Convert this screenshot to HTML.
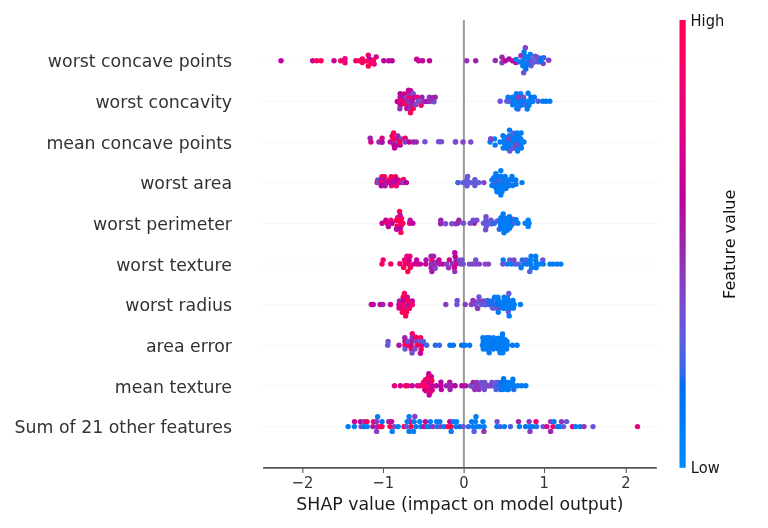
<!DOCTYPE html>
<html><head><meta charset="utf-8"><title>SHAP beeswarm</title>
<style>html,body{margin:0;padding:0;background:#fff}body{width:768px;height:528px;overflow:hidden}svg{display:block}text{font-family:"DejaVu Sans","Liberation Sans",sans-serif}</style></head><body>
<svg width="768" height="528" viewBox="0 0 768 528">
<defs><linearGradient id="cb" x1="0" y1="0" x2="0" y2="1"><stop offset="0.0%" stop-color="#ff0051"/><stop offset="0%" stop-color="#ff0051"/><stop offset="3.0%" stop-color="#ff0058"/><stop offset="6.1%" stop-color="#fd005f"/><stop offset="9.1%" stop-color="#fa0065"/><stop offset="12.1%" stop-color="#f6006c"/><stop offset="15.2%" stop-color="#f10072"/><stop offset="18.2%" stop-color="#ec0078"/><stop offset="21.2%" stop-color="#e7007e"/><stop offset="24.2%" stop-color="#e10084"/><stop offset="27.3%" stop-color="#db008a"/><stop offset="30.3%" stop-color="#d40090"/><stop offset="33.3%" stop-color="#cd0095"/><stop offset="36.4%" stop-color="#c5009a"/><stop offset="39.4%" stop-color="#bc009f"/><stop offset="42.4%" stop-color="#b30aa3"/><stop offset="45.5%" stop-color="#aa17a7"/><stop offset="48.5%" stop-color="#a01fab"/><stop offset="51.5%" stop-color="#9829b1"/><stop offset="54.5%" stop-color="#9233b9"/><stop offset="57.6%" stop-color="#8a3cc0"/><stop offset="60.6%" stop-color="#8244c7"/><stop offset="63.6%" stop-color="#794cce"/><stop offset="66.7%" stop-color="#6f52d4"/><stop offset="69.7%" stop-color="#6459da"/><stop offset="72.7%" stop-color="#575fdf"/><stop offset="75.8%" stop-color="#4664e4"/><stop offset="78.8%" stop-color="#306ae9"/><stop offset="81.8%" stop-color="#006fed"/><stop offset="84.8%" stop-color="#0074f0"/><stop offset="87.9%" stop-color="#0079f3"/><stop offset="90.9%" stop-color="#007ef6"/><stop offset="93.9%" stop-color="#0082f8"/><stop offset="97.0%" stop-color="#0086fa"/><stop offset="100.0%" stop-color="#008bfb"/></linearGradient></defs>
<rect width="768" height="528" fill="#fff"/>
<line x1="263.55" x2="656.8" y1="60.90" y2="60.90" stroke="#c4c4c4" stroke-width="0.7" stroke-dasharray="0.7 3.3"/>
<line x1="263.55" x2="656.8" y1="101.55" y2="101.55" stroke="#c4c4c4" stroke-width="0.7" stroke-dasharray="0.7 3.3"/>
<line x1="263.55" x2="656.8" y1="142.19" y2="142.19" stroke="#c4c4c4" stroke-width="0.7" stroke-dasharray="0.7 3.3"/>
<line x1="263.55" x2="656.8" y1="182.84" y2="182.84" stroke="#c4c4c4" stroke-width="0.7" stroke-dasharray="0.7 3.3"/>
<line x1="263.55" x2="656.8" y1="223.48" y2="223.48" stroke="#c4c4c4" stroke-width="0.7" stroke-dasharray="0.7 3.3"/>
<line x1="263.55" x2="656.8" y1="264.12" y2="264.12" stroke="#c4c4c4" stroke-width="0.7" stroke-dasharray="0.7 3.3"/>
<line x1="263.55" x2="656.8" y1="304.77" y2="304.77" stroke="#c4c4c4" stroke-width="0.7" stroke-dasharray="0.7 3.3"/>
<line x1="263.55" x2="656.8" y1="345.42" y2="345.42" stroke="#c4c4c4" stroke-width="0.7" stroke-dasharray="0.7 3.3"/>
<line x1="263.55" x2="656.8" y1="386.06" y2="386.06" stroke="#c4c4c4" stroke-width="0.7" stroke-dasharray="0.7 3.3"/>
<line x1="263.55" x2="656.8" y1="426.70" y2="426.70" stroke="#c4c4c4" stroke-width="0.7" stroke-dasharray="0.7 3.3"/>
<line x1="463.88" x2="463.88" y1="20.0" y2="467.8" stroke="#999999" stroke-width="2"/>
<g><circle cx="281.0" cy="60.7" r="2.72" fill="#c0009d"/><circle cx="312.7" cy="60.7" r="2.72" fill="#c80098"/><circle cx="316.7" cy="60.7" r="2.72" fill="#fe005c"/><circle cx="321.0" cy="60.7" r="2.72" fill="#fe005c"/><circle cx="334.0" cy="60.7" r="2.72" fill="#c80098"/><circle cx="340.7" cy="60.7" r="2.72" fill="#fe005c"/><circle cx="345.0" cy="58.7" r="2.72" fill="#e9007c"/><circle cx="345.0" cy="62.8" r="2.72" fill="#e9007c"/><circle cx="355.8" cy="60.7" r="2.72" fill="#f80067"/><circle cx="359.3" cy="60.7" r="2.72" fill="#fe005c"/><circle cx="362.3" cy="59.0" r="2.72" fill="#f80067"/><circle cx="362.3" cy="62.5" r="2.72" fill="#fe005c"/><circle cx="368.3" cy="55.2" r="2.72" fill="#f10072"/><circle cx="369.6" cy="59.0" r="2.72" fill="#ba00a0"/><circle cx="368.3" cy="66.1" r="2.72" fill="#ff0051"/><circle cx="376.2" cy="56.9" r="2.72" fill="#d5008f"/><circle cx="373.3" cy="60.2" r="2.72" fill="#fe005c"/><circle cx="374.2" cy="64.0" r="2.72" fill="#e9007c"/><circle cx="366.5" cy="61.1" r="2.72" fill="#fe005c"/><circle cx="371.0" cy="63.3" r="2.72" fill="#f80067"/><circle cx="383.8" cy="60.7" r="2.72" fill="#ba00a0"/><circle cx="388.8" cy="60.7" r="2.72" fill="#ba00a0"/><circle cx="392.1" cy="60.7" r="2.72" fill="#ba00a0"/><circle cx="416.7" cy="59.2" r="2.72" fill="#c80098"/><circle cx="418.7" cy="60.8" r="2.72" fill="#c80098"/><circle cx="422.5" cy="60.8" r="2.72" fill="#c80098"/><circle cx="429.5" cy="60.7" r="2.72" fill="#c80098"/><circle cx="466.7" cy="60.7" r="2.72" fill="#9134ba"/><circle cx="475.7" cy="60.7" r="2.72" fill="#9c24ad"/><circle cx="495.3" cy="60.5" r="2.72" fill="#972bb2"/><circle cx="502.0" cy="57.3" r="2.72" fill="#9c24ad"/><circle cx="502.0" cy="62.8" r="2.72" fill="#893dc1"/><circle cx="505.3" cy="60.7" r="2.72" fill="#c0009d"/><circle cx="509.1" cy="59.0" r="2.72" fill="#b407a3"/><circle cx="512.4" cy="60.7" r="2.72" fill="#c0009d"/><circle cx="515.8" cy="62.5" r="2.72" fill="#c0009d"/><circle cx="516.2" cy="59.4" r="2.72" fill="#0079f3"/><circle cx="520.8" cy="55.7" r="2.72" fill="#9134ba"/><circle cx="519.5" cy="61.9" r="2.72" fill="#007cf5"/><circle cx="525.3" cy="47.8" r="2.72" fill="#893dc1"/><circle cx="524.1" cy="51.9" r="2.72" fill="#007cf5"/><circle cx="525.3" cy="56.5" r="2.72" fill="#007cf5"/><circle cx="523.2" cy="60.7" r="2.72" fill="#007cf5"/><circle cx="522.8" cy="65.7" r="2.72" fill="#007cf5"/><circle cx="525.8" cy="69.0" r="2.72" fill="#0074f0"/><circle cx="523.7" cy="72.8" r="2.72" fill="#754fd1"/><circle cx="530.3" cy="54.4" r="2.72" fill="#0079f3"/><circle cx="528.7" cy="61.5" r="2.72" fill="#754fd1"/><circle cx="531.2" cy="65.7" r="2.72" fill="#635adb"/><circle cx="535.3" cy="56.1" r="2.72" fill="#8443c6"/><circle cx="533.7" cy="62.3" r="2.72" fill="#635adb"/><circle cx="537.0" cy="61.5" r="2.72" fill="#635adb"/><circle cx="540.8" cy="58.2" r="2.72" fill="#007cf5"/><circle cx="543.2" cy="63.6" r="2.72" fill="#893dc1"/><circle cx="543.7" cy="57.8" r="2.72" fill="#236cea"/><circle cx="548.7" cy="60.2" r="2.72" fill="#8443c6"/><circle cx="532.0" cy="59.8" r="2.72" fill="#635adb"/><circle cx="538.7" cy="61.9" r="2.72" fill="#635adb"/><circle cx="527.8" cy="57.8" r="2.72" fill="#0079f3"/><circle cx="527.0" cy="64.8" r="2.72" fill="#0079f3"/><circle cx="537.0" cy="57.3" r="2.72" fill="#754fd1"/><circle cx="540.8" cy="61.1" r="2.72" fill="#0074f0"/><circle cx="525.3" cy="63.2" r="2.72" fill="#007cf5"/></g>
<g><circle cx="516.8" cy="101.1" r="2.72" fill="#007cf5"/><circle cx="524.3" cy="101.5" r="2.72" fill="#007cf5"/><circle cx="521.4" cy="105.2" r="2.72" fill="#007cf5"/><circle cx="531.0" cy="101.1" r="2.72" fill="#007cf5"/><circle cx="516.0" cy="97.3" r="2.72" fill="#007cf5"/><circle cx="409.0" cy="93.6" r="2.72" fill="#9c24ad"/><circle cx="400.2" cy="97.3" r="2.72" fill="#ab15a7"/><circle cx="404.0" cy="97.8" r="2.72" fill="#ba00a0"/><circle cx="411.5" cy="105.2" r="2.72" fill="#9c24ad"/><circle cx="409.0" cy="105.2" r="2.72" fill="#9c24ad"/><circle cx="412.3" cy="97.8" r="2.72" fill="#ab15a7"/><circle cx="409.8" cy="94.0" r="2.72" fill="#9134ba"/><circle cx="403.2" cy="101.1" r="2.72" fill="#e9007c"/><circle cx="400.2" cy="93.6" r="2.72" fill="#ba00a0"/><circle cx="397.3" cy="101.5" r="2.72" fill="#ba00a0"/><circle cx="400.2" cy="101.1" r="2.72" fill="#f10072"/><circle cx="400.2" cy="105.2" r="2.72" fill="#ba00a0"/><circle cx="399.8" cy="108.8" r="2.72" fill="#9134ba"/><circle cx="404.4" cy="94.0" r="2.72" fill="#d5008f"/><circle cx="408.6" cy="90.2" r="2.72" fill="#c80098"/><circle cx="410.7" cy="90.7" r="2.72" fill="#c80098"/><circle cx="413.2" cy="93.6" r="2.72" fill="#754fd1"/><circle cx="406.1" cy="97.8" r="2.72" fill="#754fd1"/><circle cx="409.0" cy="97.8" r="2.72" fill="#f80067"/><circle cx="404.8" cy="104.0" r="2.72" fill="#ff0051"/><circle cx="405.2" cy="101.9" r="2.72" fill="#fe005c"/><circle cx="408.2" cy="101.5" r="2.72" fill="#9134ba"/><circle cx="412.3" cy="101.5" r="2.72" fill="#ab15a7"/><circle cx="414.8" cy="97.3" r="2.72" fill="#d5008f"/><circle cx="417.3" cy="97.3" r="2.72" fill="#f10072"/><circle cx="406.9" cy="108.6" r="2.72" fill="#ba00a0"/><circle cx="409.8" cy="109.0" r="2.72" fill="#9134ba"/><circle cx="413.2" cy="108.6" r="2.72" fill="#ff0051"/><circle cx="410.5" cy="112.8" r="2.72" fill="#ff0051"/><circle cx="415.7" cy="104.8" r="2.72" fill="#8443c6"/><circle cx="418.2" cy="101.1" r="2.72" fill="#754fd1"/><circle cx="421.1" cy="105.2" r="2.72" fill="#f10072"/><circle cx="421.9" cy="97.3" r="2.72" fill="#9c24ad"/><circle cx="423.2" cy="101.5" r="2.72" fill="#9134ba"/><circle cx="426.5" cy="101.5" r="2.72" fill="#ab15a7"/><circle cx="429.4" cy="97.3" r="2.72" fill="#9134ba"/><circle cx="429.8" cy="101.5" r="2.72" fill="#9134ba"/><circle cx="435.2" cy="97.3" r="2.72" fill="#9c24ad"/><circle cx="434.0" cy="101.7" r="2.72" fill="#754fd1"/><circle cx="432.8" cy="97.8" r="2.72" fill="#9c24ad"/><circle cx="500.2" cy="101.3" r="2.72" fill="#6b55d7"/><circle cx="506.8" cy="101.3" r="2.72" fill="#635adb"/><circle cx="509.3" cy="101.3" r="2.72" fill="#635adb"/><circle cx="508.1" cy="97.3" r="2.72" fill="#007cf5"/><circle cx="512.7" cy="97.3" r="2.72" fill="#007cf5"/><circle cx="512.7" cy="104.8" r="2.72" fill="#007cf5"/><circle cx="513.5" cy="101.1" r="2.72" fill="#007cf5"/><circle cx="516.4" cy="93.6" r="2.72" fill="#007cf5"/><circle cx="520.6" cy="93.6" r="2.72" fill="#007cf5"/><circle cx="518.5" cy="97.3" r="2.72" fill="#7f48ca"/><circle cx="523.5" cy="97.3" r="2.72" fill="#754fd1"/><circle cx="517.7" cy="104.8" r="2.72" fill="#007ff7"/><circle cx="518.1" cy="109.0" r="2.72" fill="#635adb"/><circle cx="516.8" cy="108.6" r="2.72" fill="#007cf5"/><circle cx="521.0" cy="101.1" r="2.72" fill="#007cf5"/><circle cx="525.2" cy="104.8" r="2.72" fill="#4a63e3"/><circle cx="528.1" cy="93.2" r="2.72" fill="#007cf5"/><circle cx="527.2" cy="109.0" r="2.72" fill="#007cf5"/><circle cx="527.7" cy="101.1" r="2.72" fill="#0084f9"/><circle cx="528.9" cy="105.2" r="2.72" fill="#007cf5"/><circle cx="531.0" cy="97.3" r="2.72" fill="#0074f0"/><circle cx="534.3" cy="97.3" r="2.72" fill="#0079f3"/><circle cx="532.7" cy="101.5" r="2.72" fill="#007ff7"/><circle cx="538.1" cy="101.3" r="2.72" fill="#635adb"/><circle cx="542.7" cy="101.3" r="2.72" fill="#007cf5"/><circle cx="546.0" cy="101.3" r="2.72" fill="#0079f3"/><circle cx="549.8" cy="101.3" r="2.72" fill="#007cf5"/></g>
<g><circle cx="504.8" cy="137.5" r="2.72" fill="#007cf5"/><circle cx="508.4" cy="137.5" r="2.72" fill="#007cf5"/><circle cx="512.0" cy="137.5" r="2.72" fill="#007cf5"/><circle cx="515.6" cy="137.5" r="2.72" fill="#007cf5"/><circle cx="519.2" cy="137.5" r="2.72" fill="#007cf5"/><circle cx="506.6" cy="140.6" r="2.72" fill="#007cf5"/><circle cx="510.2" cy="140.6" r="2.72" fill="#007cf5"/><circle cx="513.8" cy="140.6" r="2.72" fill="#007cf5"/><circle cx="517.4" cy="140.6" r="2.72" fill="#007cf5"/><circle cx="521.0" cy="140.6" r="2.72" fill="#007cf5"/><circle cx="504.8" cy="143.8" r="2.72" fill="#007cf5"/><circle cx="508.4" cy="143.8" r="2.72" fill="#007cf5"/><circle cx="512.0" cy="143.8" r="2.72" fill="#007cf5"/><circle cx="515.6" cy="143.8" r="2.72" fill="#007cf5"/><circle cx="519.2" cy="143.8" r="2.72" fill="#007cf5"/><circle cx="506.6" cy="146.9" r="2.72" fill="#007cf5"/><circle cx="510.2" cy="146.9" r="2.72" fill="#007cf5"/><circle cx="513.8" cy="146.9" r="2.72" fill="#007cf5"/><circle cx="517.4" cy="146.9" r="2.72" fill="#007cf5"/><circle cx="504.5" cy="138.9" r="2.72" fill="#007cf5"/><circle cx="506.4" cy="145.1" r="2.72" fill="#007cf5"/><circle cx="507.0" cy="138.9" r="2.72" fill="#007cf5"/><circle cx="517.0" cy="147.6" r="2.72" fill="#007cf5"/><circle cx="520.8" cy="144.5" r="2.72" fill="#007cf5"/><circle cx="517.0" cy="135.8" r="2.72" fill="#007cf5"/><circle cx="513.0" cy="142.0" r="2.72" fill="#007cf5"/><circle cx="507.0" cy="148.2" r="2.72" fill="#007cf5"/><circle cx="505.8" cy="142.0" r="2.72" fill="#007cf5"/><circle cx="396.5" cy="142.0" r="2.72" fill="#ba00a0"/><circle cx="396.8" cy="138.9" r="2.72" fill="#e9007c"/><circle cx="397.1" cy="145.1" r="2.72" fill="#ba00a0"/><circle cx="370.2" cy="138.2" r="2.72" fill="#9c24ad"/><circle cx="370.9" cy="142.0" r="2.72" fill="#d5008f"/><circle cx="379.0" cy="142.0" r="2.72" fill="#9c24ad"/><circle cx="382.1" cy="138.2" r="2.72" fill="#e00086"/><circle cx="382.1" cy="142.2" r="2.72" fill="#ab15a7"/><circle cx="390.2" cy="142.0" r="2.72" fill="#ab15a7"/><circle cx="393.6" cy="133.0" r="2.72" fill="#fe005c"/><circle cx="392.1" cy="136.0" r="2.72" fill="#f80067"/><circle cx="393.4" cy="138.9" r="2.72" fill="#ff0051"/><circle cx="397.8" cy="136.0" r="2.72" fill="#9c24ad"/><circle cx="395.2" cy="142.0" r="2.72" fill="#8443c6"/><circle cx="399.6" cy="142.0" r="2.72" fill="#ff0051"/><circle cx="394.0" cy="145.1" r="2.72" fill="#ba00a0"/><circle cx="394.6" cy="148.0" r="2.72" fill="#c80098"/><circle cx="400.2" cy="145.1" r="2.72" fill="#ba00a0"/><circle cx="401.5" cy="138.9" r="2.72" fill="#8443c6"/><circle cx="405.2" cy="138.2" r="2.72" fill="#f80067"/><circle cx="405.2" cy="142.0" r="2.72" fill="#8443c6"/><circle cx="409.2" cy="142.0" r="2.72" fill="#ba00a0"/><circle cx="413.4" cy="142.0" r="2.72" fill="#9c24ad"/><circle cx="416.2" cy="142.0" r="2.72" fill="#9c24ad"/><circle cx="424.9" cy="141.8" r="2.72" fill="#754fd1"/><circle cx="438.6" cy="141.8" r="2.72" fill="#754fd1"/><circle cx="441.5" cy="141.8" r="2.72" fill="#754fd1"/><circle cx="455.5" cy="141.8" r="2.72" fill="#635adb"/><circle cx="455.5" cy="142.0" r="2.72" fill="#7f48ca"/><circle cx="463.0" cy="142.0" r="2.72" fill="#8443c6"/><circle cx="470.8" cy="142.0" r="2.72" fill="#7f48ca"/><circle cx="490.8" cy="138.9" r="2.72" fill="#8443c6"/><circle cx="490.1" cy="142.0" r="2.72" fill="#007cf5"/><circle cx="494.5" cy="138.9" r="2.72" fill="#007cf5"/><circle cx="495.1" cy="145.1" r="2.72" fill="#007cf5"/><circle cx="500.1" cy="142.0" r="2.72" fill="#007cf5"/><circle cx="503.0" cy="135.8" r="2.72" fill="#007cf5"/><circle cx="503.2" cy="148.0" r="2.72" fill="#007cf5"/><circle cx="503.9" cy="142.0" r="2.72" fill="#007cf5"/><circle cx="509.5" cy="130.1" r="2.72" fill="#007cf5"/><circle cx="509.5" cy="135.8" r="2.72" fill="#007cf5"/><circle cx="509.2" cy="138.9" r="2.72" fill="#8443c6"/><circle cx="509.8" cy="151.0" r="2.72" fill="#635adb"/><circle cx="508.2" cy="145.1" r="2.72" fill="#007cf5"/><circle cx="513.2" cy="133.2" r="2.72" fill="#4a63e3"/><circle cx="513.2" cy="138.9" r="2.72" fill="#007cf5"/><circle cx="512.6" cy="145.1" r="2.72" fill="#007ff7"/><circle cx="513.2" cy="148.2" r="2.72" fill="#635adb"/><circle cx="517.0" cy="133.0" r="2.72" fill="#007cf5"/><circle cx="516.4" cy="138.9" r="2.72" fill="#007cf5"/><circle cx="516.6" cy="144.5" r="2.72" fill="#8443c6"/><circle cx="517.6" cy="151.0" r="2.72" fill="#007cf5"/><circle cx="521.1" cy="133.0" r="2.72" fill="#007cf5"/><circle cx="520.8" cy="138.9" r="2.72" fill="#007cf5"/><circle cx="521.4" cy="148.0" r="2.72" fill="#007cf5"/><circle cx="520.5" cy="142.0" r="2.72" fill="#007ff7"/><circle cx="523.9" cy="142.0" r="2.72" fill="#007cf5"/><circle cx="399.6" cy="142.0" r="2.72" fill="#ff0051"/><circle cx="393.4" cy="138.9" r="2.72" fill="#ff0051"/><circle cx="490.8" cy="138.9" r="2.72" fill="#8443c6"/></g>
<g><circle cx="493.8" cy="177.7" r="2.72" fill="#007cf5"/><circle cx="497.4" cy="177.7" r="2.72" fill="#007cf5"/><circle cx="501.0" cy="177.7" r="2.72" fill="#007cf5"/><circle cx="504.6" cy="177.7" r="2.72" fill="#007cf5"/><circle cx="495.6" cy="180.8" r="2.72" fill="#007cf5"/><circle cx="499.2" cy="180.8" r="2.72" fill="#007cf5"/><circle cx="502.8" cy="180.8" r="2.72" fill="#007cf5"/><circle cx="506.4" cy="180.8" r="2.72" fill="#007cf5"/><circle cx="493.8" cy="184.0" r="2.72" fill="#007cf5"/><circle cx="497.4" cy="184.0" r="2.72" fill="#007cf5"/><circle cx="501.0" cy="184.0" r="2.72" fill="#007cf5"/><circle cx="504.6" cy="184.0" r="2.72" fill="#007cf5"/><circle cx="495.6" cy="187.1" r="2.72" fill="#007cf5"/><circle cx="499.2" cy="187.1" r="2.72" fill="#007cf5"/><circle cx="502.8" cy="187.1" r="2.72" fill="#007cf5"/><circle cx="506.4" cy="187.1" r="2.72" fill="#007cf5"/><circle cx="501.0" cy="190.2" r="2.72" fill="#007cf5"/><circle cx="467.0" cy="182.6" r="2.72" fill="#635adb"/><circle cx="474.9" cy="182.6" r="2.72" fill="#635adb"/><circle cx="497.0" cy="182.6" r="2.72" fill="#007cf5"/><circle cx="500.1" cy="182.6" r="2.72" fill="#007cf5"/><circle cx="496.4" cy="179.9" r="2.72" fill="#007cf5"/><circle cx="496.4" cy="185.5" r="2.72" fill="#007cf5"/><circle cx="504.5" cy="179.9" r="2.72" fill="#007cf5"/><circle cx="504.5" cy="185.5" r="2.72" fill="#007cf5"/><circle cx="500.8" cy="188.6" r="2.72" fill="#007cf5"/><circle cx="508.9" cy="185.5" r="2.72" fill="#007cf5"/><circle cx="498.2" cy="176.8" r="2.72" fill="#007cf5"/><circle cx="377.1" cy="182.6" r="2.72" fill="#fe005c"/><circle cx="377.7" cy="179.9" r="2.72" fill="#8443c6"/><circle cx="378.1" cy="182.4" r="2.72" fill="#8443c6"/><circle cx="381.9" cy="176.6" r="2.72" fill="#ff0051"/><circle cx="384.5" cy="176.6" r="2.72" fill="#ff0051"/><circle cx="381.3" cy="179.9" r="2.72" fill="#ab15a7"/><circle cx="383.5" cy="179.9" r="2.72" fill="#ab15a7"/><circle cx="381.6" cy="182.6" r="2.72" fill="#f80067"/><circle cx="385.5" cy="182.6" r="2.72" fill="#ab15a7"/><circle cx="381.3" cy="185.7" r="2.72" fill="#ba00a0"/><circle cx="385.1" cy="185.7" r="2.72" fill="#ab15a7"/><circle cx="388.7" cy="179.9" r="2.72" fill="#e9007c"/><circle cx="391.3" cy="176.6" r="2.72" fill="#ff0051"/><circle cx="395.4" cy="176.6" r="2.72" fill="#ff0051"/><circle cx="391.6" cy="179.9" r="2.72" fill="#f10072"/><circle cx="395.8" cy="179.9" r="2.72" fill="#ba00a0"/><circle cx="389.3" cy="182.6" r="2.72" fill="#e9007c"/><circle cx="392.6" cy="182.6" r="2.72" fill="#ba00a0"/><circle cx="395.8" cy="182.6" r="2.72" fill="#f10072"/><circle cx="398.3" cy="179.9" r="2.72" fill="#e9007c"/><circle cx="391.6" cy="185.7" r="2.72" fill="#f10072"/><circle cx="396.4" cy="185.7" r="2.72" fill="#f10072"/><circle cx="400.0" cy="182.6" r="2.72" fill="#e9007c"/><circle cx="403.5" cy="179.5" r="2.72" fill="#f80067"/><circle cx="403.2" cy="182.6" r="2.72" fill="#8443c6"/><circle cx="406.4" cy="182.6" r="2.72" fill="#ba00a0"/><circle cx="458.0" cy="182.6" r="2.72" fill="#0074f0"/><circle cx="458.2" cy="182.6" r="2.72" fill="#4a63e3"/><circle cx="463.2" cy="182.6" r="2.72" fill="#635adb"/><circle cx="467.0" cy="179.9" r="2.72" fill="#635adb"/><circle cx="467.0" cy="185.8" r="2.72" fill="#635adb"/><circle cx="467.6" cy="176.5" r="2.72" fill="#635adb"/><circle cx="470.8" cy="182.6" r="2.72" fill="#635adb"/><circle cx="474.9" cy="179.6" r="2.72" fill="#635adb"/><circle cx="474.9" cy="185.5" r="2.72" fill="#6b55d7"/><circle cx="478.9" cy="182.6" r="2.72" fill="#635adb"/><circle cx="483.9" cy="182.6" r="2.72" fill="#7f48ca"/><circle cx="492.0" cy="179.9" r="2.72" fill="#007cf5"/><circle cx="492.0" cy="185.5" r="2.72" fill="#007cf5"/><circle cx="494.5" cy="182.6" r="2.72" fill="#236cea"/><circle cx="495.8" cy="173.6" r="2.72" fill="#007cf5"/><circle cx="495.8" cy="176.8" r="2.72" fill="#007cf5"/><circle cx="496.4" cy="188.6" r="2.72" fill="#007cf5"/><circle cx="497.0" cy="191.8" r="2.72" fill="#007cf5"/><circle cx="500.1" cy="179.9" r="2.72" fill="#4a63e3"/><circle cx="500.1" cy="185.5" r="2.72" fill="#007cf5"/><circle cx="500.8" cy="170.8" r="2.72" fill="#007cf5"/><circle cx="500.8" cy="194.9" r="2.72" fill="#007cf5"/><circle cx="501.4" cy="176.5" r="2.72" fill="#007cf5"/><circle cx="502.0" cy="191.5" r="2.72" fill="#007cf5"/><circle cx="503.9" cy="182.6" r="2.72" fill="#007cf5"/><circle cx="505.1" cy="176.5" r="2.72" fill="#007cf5"/><circle cx="505.8" cy="188.6" r="2.72" fill="#007cf5"/><circle cx="508.2" cy="182.6" r="2.72" fill="#236cea"/><circle cx="508.9" cy="179.9" r="2.72" fill="#007cf5"/><circle cx="512.0" cy="176.5" r="2.72" fill="#007cf5"/><circle cx="512.6" cy="185.5" r="2.72" fill="#007cf5"/><circle cx="512.6" cy="179.9" r="2.72" fill="#007cf5"/><circle cx="515.8" cy="179.9" r="2.72" fill="#007cf5"/><circle cx="515.8" cy="184.2" r="2.72" fill="#007cf5"/><circle cx="522.0" cy="182.6" r="2.72" fill="#007cf5"/><circle cx="392.6" cy="182.6" r="2.72" fill="#ab15a7"/><circle cx="395.8" cy="179.9" r="2.72" fill="#ba00a0"/><circle cx="389.3" cy="182.6" r="2.72" fill="#d5008f"/></g>
<g><circle cx="500.6" cy="218.9" r="2.72" fill="#007cf5"/><circle cx="504.2" cy="218.9" r="2.72" fill="#007cf5"/><circle cx="507.8" cy="218.9" r="2.72" fill="#007cf5"/><circle cx="502.4" cy="222.0" r="2.72" fill="#007cf5"/><circle cx="506.0" cy="222.0" r="2.72" fill="#007cf5"/><circle cx="509.6" cy="222.0" r="2.72" fill="#007cf5"/><circle cx="500.6" cy="225.2" r="2.72" fill="#007cf5"/><circle cx="504.2" cy="225.2" r="2.72" fill="#007cf5"/><circle cx="507.8" cy="225.2" r="2.72" fill="#007cf5"/><circle cx="511.4" cy="225.2" r="2.72" fill="#007cf5"/><circle cx="502.4" cy="228.3" r="2.72" fill="#007cf5"/><circle cx="506.0" cy="228.3" r="2.72" fill="#007cf5"/><circle cx="509.6" cy="228.3" r="2.72" fill="#007cf5"/><circle cx="505.7" cy="221.8" r="2.72" fill="#007cf5"/><circle cx="503.2" cy="219.8" r="2.72" fill="#007cf5"/><circle cx="506.9" cy="224.8" r="2.72" fill="#007cf5"/><circle cx="511.5" cy="223.9" r="2.72" fill="#0079f3"/><circle cx="513.2" cy="219.3" r="2.72" fill="#635adb"/><circle cx="501.9" cy="224.8" r="2.72" fill="#007cf5"/><circle cx="382.1" cy="223.2" r="2.72" fill="#c80098"/><circle cx="385.9" cy="220.2" r="2.72" fill="#ba00a0"/><circle cx="387.1" cy="223.2" r="2.72" fill="#f10072"/><circle cx="388.4" cy="226.5" r="2.72" fill="#ba00a0"/><circle cx="390.9" cy="220.2" r="2.72" fill="#f10072"/><circle cx="392.1" cy="223.2" r="2.72" fill="#ba00a0"/><circle cx="399.6" cy="211.5" r="2.72" fill="#ff0051"/><circle cx="400.2" cy="215.5" r="2.72" fill="#ab15a7"/><circle cx="397.8" cy="217.4" r="2.72" fill="#e9007c"/><circle cx="401.5" cy="218.6" r="2.72" fill="#f80067"/><circle cx="396.5" cy="220.5" r="2.72" fill="#ff0051"/><circle cx="400.2" cy="221.8" r="2.72" fill="#ff0051"/><circle cx="397.1" cy="226.1" r="2.72" fill="#ff0051"/><circle cx="401.5" cy="224.9" r="2.72" fill="#f80067"/><circle cx="396.5" cy="229.2" r="2.72" fill="#ab15a7"/><circle cx="400.2" cy="228.6" r="2.72" fill="#ba00a0"/><circle cx="400.9" cy="232.4" r="2.72" fill="#ff0051"/><circle cx="402.8" cy="223.2" r="2.72" fill="#fe005c"/><circle cx="410.2" cy="220.2" r="2.72" fill="#ab15a7"/><circle cx="409.6" cy="223.2" r="2.72" fill="#e00086"/><circle cx="412.8" cy="223.2" r="2.72" fill="#ba00a0"/><circle cx="474.3" cy="223.3" r="2.72" fill="#a11eab"/><circle cx="440.8" cy="220.2" r="2.72" fill="#9c24ad"/><circle cx="440.6" cy="223.7" r="2.72" fill="#9c24ad"/><circle cx="445.6" cy="223.7" r="2.72" fill="#754fd1"/><circle cx="451.8" cy="223.7" r="2.72" fill="#754fd1"/><circle cx="456.0" cy="223.7" r="2.72" fill="#9134ba"/><circle cx="458.9" cy="220.2" r="2.72" fill="#9c24ad"/><circle cx="458.1" cy="223.1" r="2.72" fill="#972bb2"/><circle cx="463.5" cy="223.3" r="2.72" fill="#6e53d5"/><circle cx="470.2" cy="223.3" r="2.72" fill="#754fd1"/><circle cx="473.1" cy="220.2" r="2.72" fill="#754fd1"/><circle cx="476.8" cy="220.2" r="2.72" fill="#7f48ca"/><circle cx="483.5" cy="223.3" r="2.72" fill="#635adb"/><circle cx="486.0" cy="216.8" r="2.72" fill="#7f48ca"/><circle cx="486.0" cy="220.2" r="2.72" fill="#635adb"/><circle cx="486.4" cy="226.0" r="2.72" fill="#635adb"/><circle cx="485.6" cy="229.8" r="2.72" fill="#754fd1"/><circle cx="488.1" cy="223.3" r="2.72" fill="#635adb"/><circle cx="491.0" cy="220.2" r="2.72" fill="#635adb"/><circle cx="491.4" cy="223.9" r="2.72" fill="#635adb"/><circle cx="494.3" cy="223.3" r="2.72" fill="#236cea"/><circle cx="497.2" cy="221.0" r="2.72" fill="#635adb"/><circle cx="499.3" cy="229.3" r="2.72" fill="#236cea"/><circle cx="503.2" cy="213.9" r="2.72" fill="#007cf5"/><circle cx="501.1" cy="217.7" r="2.72" fill="#007cf5"/><circle cx="505.2" cy="218.1" r="2.72" fill="#007cf5"/><circle cx="509.4" cy="216.8" r="2.72" fill="#0079f3"/><circle cx="500.7" cy="222.7" r="2.72" fill="#007ff7"/><circle cx="504.4" cy="223.1" r="2.72" fill="#007ff7"/><circle cx="508.2" cy="221.4" r="2.72" fill="#007cf5"/><circle cx="511.5" cy="221.4" r="2.72" fill="#0074f0"/><circle cx="502.3" cy="226.8" r="2.72" fill="#007cf5"/><circle cx="506.1" cy="227.2" r="2.72" fill="#007ff7"/><circle cx="509.8" cy="226.0" r="2.72" fill="#007cf5"/><circle cx="504.0" cy="232.7" r="2.72" fill="#007cf5"/><circle cx="507.3" cy="230.2" r="2.72" fill="#007cf5"/><circle cx="499.8" cy="221.0" r="2.72" fill="#007cf5"/><circle cx="514.8" cy="222.7" r="2.72" fill="#4a63e3"/><circle cx="516.1" cy="219.8" r="2.72" fill="#007cf5"/><circle cx="517.8" cy="223.3" r="2.72" fill="#007cf5"/><circle cx="525.2" cy="223.3" r="2.72" fill="#007ff7"/><circle cx="528.2" cy="220.2" r="2.72" fill="#007ff7"/><circle cx="528.2" cy="226.4" r="2.72" fill="#007ff7"/><circle cx="529.0" cy="223.3" r="2.72" fill="#007ff7"/></g>
<g><circle cx="382.0" cy="264.1" r="2.72" fill="#fe005c"/><circle cx="383.1" cy="259.9" r="2.72" fill="#f10072"/><circle cx="390.8" cy="263.9" r="2.72" fill="#fb0063"/><circle cx="399.9" cy="263.7" r="2.72" fill="#e9007c"/><circle cx="404.5" cy="259.9" r="2.72" fill="#f10072"/><circle cx="407.0" cy="256.2" r="2.72" fill="#e9007c"/><circle cx="409.9" cy="256.2" r="2.72" fill="#e9007c"/><circle cx="409.1" cy="260.3" r="2.72" fill="#c80098"/><circle cx="405.3" cy="263.7" r="2.72" fill="#ff0051"/><circle cx="403.7" cy="267.4" r="2.72" fill="#ff0051"/><circle cx="410.3" cy="267.4" r="2.72" fill="#ff0051"/><circle cx="407.8" cy="271.6" r="2.72" fill="#ff0051"/><circle cx="408.7" cy="264.1" r="2.72" fill="#e9007c"/><circle cx="413.7" cy="264.1" r="2.72" fill="#d5008f"/><circle cx="416.6" cy="259.9" r="2.72" fill="#c80098"/><circle cx="417.4" cy="264.1" r="2.72" fill="#d5008f"/><circle cx="420.3" cy="264.1" r="2.72" fill="#c80098"/><circle cx="426.1" cy="259.9" r="2.72" fill="#ab15a7"/><circle cx="425.7" cy="264.1" r="2.72" fill="#c80098"/><circle cx="431.1" cy="256.2" r="2.72" fill="#9c24ad"/><circle cx="433.6" cy="256.2" r="2.72" fill="#9c24ad"/><circle cx="431.9" cy="260.3" r="2.72" fill="#e9007c"/><circle cx="431.1" cy="264.1" r="2.72" fill="#9134ba"/><circle cx="434.8" cy="264.1" r="2.72" fill="#9c24ad"/><circle cx="431.1" cy="267.8" r="2.72" fill="#9c24ad"/><circle cx="431.9" cy="271.6" r="2.72" fill="#ab15a7"/><circle cx="435.2" cy="268.2" r="2.72" fill="#8443c6"/><circle cx="436.1" cy="262.4" r="2.72" fill="#9134ba"/><circle cx="439.0" cy="259.9" r="2.72" fill="#c80098"/><circle cx="439.4" cy="264.1" r="2.72" fill="#9c24ad"/><circle cx="442.8" cy="264.1" r="2.72" fill="#c80098"/><circle cx="446.5" cy="264.1" r="2.72" fill="#893dc1"/><circle cx="449.4" cy="259.9" r="2.72" fill="#c80098"/><circle cx="448.6" cy="267.8" r="2.72" fill="#9134ba"/><circle cx="452.3" cy="263.7" r="2.72" fill="#9134ba"/><circle cx="454.8" cy="252.8" r="2.72" fill="#ba00a0"/><circle cx="455.2" cy="256.6" r="2.72" fill="#ba00a0"/><circle cx="456.1" cy="260.3" r="2.72" fill="#ab15a7"/><circle cx="456.9" cy="263.7" r="2.72" fill="#d5008f"/><circle cx="454.4" cy="267.8" r="2.72" fill="#d5008f"/><circle cx="454.7" cy="271.6" r="2.72" fill="#9134ba"/><circle cx="459.0" cy="260.3" r="2.72" fill="#8443c6"/><circle cx="461.9" cy="259.9" r="2.72" fill="#754fd1"/><circle cx="460.7" cy="264.1" r="2.72" fill="#7f48ca"/><circle cx="463.2" cy="264.1" r="2.72" fill="#754fd1"/><circle cx="469.4" cy="264.1" r="2.72" fill="#7f48ca"/><circle cx="472.3" cy="264.1" r="2.72" fill="#7f48ca"/><circle cx="475.7" cy="259.9" r="2.72" fill="#754fd1"/><circle cx="475.7" cy="264.1" r="2.72" fill="#7f48ca"/><circle cx="479.4" cy="264.1" r="2.72" fill="#8443c6"/><circle cx="485.2" cy="264.1" r="2.72" fill="#7f48ca"/><circle cx="488.4" cy="264.1" r="2.72" fill="#8443c6"/><circle cx="503.2" cy="259.9" r="2.72" fill="#007cf5"/><circle cx="502.8" cy="264.1" r="2.72" fill="#754fd1"/><circle cx="507.3" cy="264.1" r="2.72" fill="#007cf5"/><circle cx="509.8" cy="259.9" r="2.72" fill="#635adb"/><circle cx="511.5" cy="264.1" r="2.72" fill="#007cf5"/><circle cx="514.0" cy="259.9" r="2.72" fill="#7f48ca"/><circle cx="515.2" cy="264.1" r="2.72" fill="#635adb"/><circle cx="518.6" cy="264.1" r="2.72" fill="#4a63e3"/><circle cx="521.1" cy="267.8" r="2.72" fill="#007cf5"/><circle cx="522.3" cy="259.9" r="2.72" fill="#236cea"/><circle cx="524.0" cy="263.7" r="2.72" fill="#236cea"/><circle cx="526.1" cy="259.9" r="2.72" fill="#4a63e3"/><circle cx="526.9" cy="264.1" r="2.72" fill="#007cf5"/><circle cx="529.7" cy="271.6" r="2.72" fill="#4a63e3"/><circle cx="530.2" cy="260.3" r="2.72" fill="#007cf5"/><circle cx="530.7" cy="264.1" r="2.72" fill="#007ff7"/><circle cx="531.1" cy="256.2" r="2.72" fill="#007cf5"/><circle cx="531.5" cy="267.8" r="2.72" fill="#007cf5"/><circle cx="535.7" cy="256.2" r="2.72" fill="#007cf5"/><circle cx="535.7" cy="260.3" r="2.72" fill="#007cf5"/><circle cx="536.1" cy="264.1" r="2.72" fill="#007cf5"/><circle cx="536.1" cy="267.8" r="2.72" fill="#007cf5"/><circle cx="539.4" cy="264.1" r="2.72" fill="#007cf5"/><circle cx="542.8" cy="259.9" r="2.72" fill="#635adb"/><circle cx="543.2" cy="264.1" r="2.72" fill="#007cf5"/><circle cx="550.0" cy="264.1" r="2.72" fill="#007cf5"/><circle cx="553.3" cy="264.1" r="2.72" fill="#007cf5"/><circle cx="557.1" cy="264.1" r="2.72" fill="#007cf5"/><circle cx="560.8" cy="264.1" r="2.72" fill="#007cf5"/></g>
<g><circle cx="476.0" cy="302.2" r="2.72" fill="#893dc1"/><circle cx="481.0" cy="301.8" r="2.72" fill="#8443c6"/><circle cx="485.2" cy="304.7" r="2.72" fill="#635adb"/><circle cx="491.8" cy="300.9" r="2.72" fill="#236cea"/><circle cx="495.2" cy="304.7" r="2.72" fill="#0074f0"/><circle cx="499.3" cy="300.9" r="2.72" fill="#007cf5"/><circle cx="494.3" cy="308.0" r="2.72" fill="#635adb"/><circle cx="499.3" cy="308.0" r="2.72" fill="#236cea"/><circle cx="513.5" cy="308.0" r="2.72" fill="#007cf5"/><circle cx="510.2" cy="304.7" r="2.72" fill="#007cf5"/><circle cx="509.3" cy="301.3" r="2.72" fill="#007cf5"/><circle cx="371.3" cy="304.5" r="2.72" fill="#c80098"/><circle cx="373.2" cy="304.5" r="2.72" fill="#ba00a0"/><circle cx="380.2" cy="304.5" r="2.72" fill="#c80098"/><circle cx="382.8" cy="304.5" r="2.72" fill="#9c24ad"/><circle cx="390.5" cy="304.5" r="2.72" fill="#c80098"/><circle cx="404.4" cy="293.4" r="2.72" fill="#fe005c"/><circle cx="403.2" cy="297.2" r="2.72" fill="#fe005c"/><circle cx="407.3" cy="297.2" r="2.72" fill="#d5008f"/><circle cx="399.4" cy="300.9" r="2.72" fill="#9c24ad"/><circle cx="403.6" cy="300.9" r="2.72" fill="#ba00a0"/><circle cx="407.8" cy="300.5" r="2.72" fill="#ff0051"/><circle cx="412.3" cy="300.9" r="2.72" fill="#c80098"/><circle cx="399.0" cy="304.5" r="2.72" fill="#d5008f"/><circle cx="403.2" cy="304.7" r="2.72" fill="#fe005c"/><circle cx="408.2" cy="304.7" r="2.72" fill="#c80098"/><circle cx="412.3" cy="304.7" r="2.72" fill="#f10072"/><circle cx="399.0" cy="308.0" r="2.72" fill="#d5008f"/><circle cx="403.6" cy="308.4" r="2.72" fill="#ff0051"/><circle cx="407.3" cy="308.0" r="2.72" fill="#9c24ad"/><circle cx="409.4" cy="308.4" r="2.72" fill="#fe005c"/><circle cx="402.3" cy="312.2" r="2.72" fill="#fe005c"/><circle cx="406.5" cy="312.2" r="2.72" fill="#ff0051"/><circle cx="405.7" cy="315.9" r="2.72" fill="#ff0051"/><circle cx="445.8" cy="304.5" r="2.72" fill="#893dc1"/><circle cx="457.2" cy="300.5" r="2.72" fill="#754fd1"/><circle cx="456.9" cy="304.5" r="2.72" fill="#6e53d5"/><circle cx="465.2" cy="304.5" r="2.72" fill="#8443c6"/><circle cx="471.3" cy="304.5" r="2.72" fill="#893dc1"/><circle cx="473.0" cy="300.5" r="2.72" fill="#9134ba"/><circle cx="475.9" cy="304.5" r="2.72" fill="#754fd1"/><circle cx="477.6" cy="308.4" r="2.72" fill="#893dc1"/><circle cx="479.0" cy="297.0" r="2.72" fill="#754fd1"/><circle cx="479.2" cy="301.3" r="2.72" fill="#754fd1"/><circle cx="481.3" cy="304.5" r="2.72" fill="#635adb"/><circle cx="483.4" cy="300.9" r="2.72" fill="#8443c6"/><circle cx="485.5" cy="304.5" r="2.72" fill="#635adb"/><circle cx="487.5" cy="300.5" r="2.72" fill="#236cea"/><circle cx="489.2" cy="304.5" r="2.72" fill="#236cea"/><circle cx="492.5" cy="308.0" r="2.72" fill="#635adb"/><circle cx="493.3" cy="304.5" r="2.72" fill="#236cea"/><circle cx="494.6" cy="297.2" r="2.72" fill="#007cf5"/><circle cx="497.9" cy="297.2" r="2.72" fill="#007cf5"/><circle cx="497.1" cy="300.9" r="2.72" fill="#007cf5"/><circle cx="497.1" cy="308.0" r="2.72" fill="#754fd1"/><circle cx="498.3" cy="312.2" r="2.72" fill="#007cf5"/><circle cx="497.9" cy="304.5" r="2.72" fill="#0074f0"/><circle cx="502.5" cy="304.5" r="2.72" fill="#007cf5"/><circle cx="504.2" cy="297.2" r="2.72" fill="#007cf5"/><circle cx="504.6" cy="300.9" r="2.72" fill="#007cf5"/><circle cx="503.8" cy="308.4" r="2.72" fill="#007cf5"/><circle cx="506.7" cy="304.5" r="2.72" fill="#007cf5"/><circle cx="507.5" cy="298.0" r="2.72" fill="#007cf5"/><circle cx="508.8" cy="293.4" r="2.72" fill="#635adb"/><circle cx="508.3" cy="311.8" r="2.72" fill="#635adb"/><circle cx="509.2" cy="315.9" r="2.72" fill="#007cf5"/><circle cx="508.8" cy="300.9" r="2.72" fill="#007cf5"/><circle cx="508.3" cy="308.0" r="2.72" fill="#007cf5"/><circle cx="512.1" cy="304.5" r="2.72" fill="#007cf5"/><circle cx="512.9" cy="300.5" r="2.72" fill="#007cf5"/><circle cx="512.1" cy="308.0" r="2.72" fill="#007cf5"/><circle cx="514.2" cy="304.5" r="2.72" fill="#007cf5"/><circle cx="520.4" cy="304.5" r="2.72" fill="#007ff7"/></g>
<g><circle cx="491.2" cy="339.7" r="2.72" fill="#007cf5"/><circle cx="491.2" cy="343.3" r="2.72" fill="#007cf5"/><circle cx="491.2" cy="347.2" r="2.72" fill="#007cf5"/><circle cx="495.8" cy="339.7" r="2.72" fill="#007cf5"/><circle cx="495.8" cy="343.3" r="2.72" fill="#007cf5"/><circle cx="495.8" cy="347.2" r="2.72" fill="#007cf5"/><circle cx="500.4" cy="339.7" r="2.72" fill="#007cf5"/><circle cx="500.4" cy="343.3" r="2.72" fill="#007cf5"/><circle cx="500.4" cy="347.2" r="2.72" fill="#007cf5"/><circle cx="500.4" cy="350.8" r="2.72" fill="#007cf5"/><circle cx="486.2" cy="341.5" r="2.72" fill="#007cf5"/><circle cx="486.2" cy="349.0" r="2.72" fill="#007cf5"/><circle cx="505.0" cy="339.7" r="2.72" fill="#007cf5"/><circle cx="505.0" cy="343.3" r="2.72" fill="#007cf5"/><circle cx="505.0" cy="347.2" r="2.72" fill="#007cf5"/><circle cx="486.7" cy="337.8" r="2.72" fill="#007cf5"/><circle cx="388.1" cy="341.5" r="2.72" fill="#754fd1"/><circle cx="387.7" cy="345.2" r="2.72" fill="#635adb"/><circle cx="399.0" cy="345.2" r="2.72" fill="#ab15a7"/><circle cx="404.8" cy="337.8" r="2.72" fill="#9c24ad"/><circle cx="405.0" cy="341.5" r="2.72" fill="#c80098"/><circle cx="405.0" cy="345.2" r="2.72" fill="#fe005c"/><circle cx="405.0" cy="349.0" r="2.72" fill="#635adb"/><circle cx="407.9" cy="345.2" r="2.72" fill="#ff0051"/><circle cx="407.9" cy="341.5" r="2.72" fill="#754fd1"/><circle cx="412.3" cy="333.8" r="2.72" fill="#f80067"/><circle cx="412.1" cy="337.8" r="2.72" fill="#9134ba"/><circle cx="412.1" cy="341.5" r="2.72" fill="#9c24ad"/><circle cx="411.2" cy="345.7" r="2.72" fill="#d5008f"/><circle cx="411.2" cy="349.0" r="2.72" fill="#f10072"/><circle cx="412.1" cy="353.0" r="2.72" fill="#754fd1"/><circle cx="415.8" cy="337.3" r="2.72" fill="#ff0051"/><circle cx="416.7" cy="341.5" r="2.72" fill="#8443c6"/><circle cx="417.1" cy="345.2" r="2.72" fill="#ff0051"/><circle cx="415.0" cy="349.0" r="2.72" fill="#754fd1"/><circle cx="420.6" cy="337.8" r="2.72" fill="#fe005c"/><circle cx="420.8" cy="341.5" r="2.72" fill="#635adb"/><circle cx="421.7" cy="345.2" r="2.72" fill="#d5008f"/><circle cx="421.2" cy="349.4" r="2.72" fill="#fe005c"/><circle cx="420.4" cy="353.2" r="2.72" fill="#c80098"/><circle cx="423.3" cy="341.5" r="2.72" fill="#4a63e3"/><circle cx="426.7" cy="345.2" r="2.72" fill="#4a63e3"/><circle cx="435.4" cy="345.2" r="2.72" fill="#236cea"/><circle cx="439.3" cy="345.2" r="2.72" fill="#3768e7"/><circle cx="450.0" cy="345.2" r="2.72" fill="#0074f0"/><circle cx="453.3" cy="345.2" r="2.72" fill="#0074f0"/><circle cx="461.7" cy="345.2" r="2.72" fill="#0074f0"/><circle cx="465.0" cy="345.2" r="2.72" fill="#0079f3"/><circle cx="469.6" cy="345.2" r="2.72" fill="#007cf5"/><circle cx="482.9" cy="337.8" r="2.72" fill="#007cf5"/><circle cx="483.3" cy="341.5" r="2.72" fill="#007cf5"/><circle cx="482.5" cy="345.2" r="2.72" fill="#007cf5"/><circle cx="483.3" cy="349.0" r="2.72" fill="#007cf5"/><circle cx="486.7" cy="345.2" r="2.72" fill="#007cf5"/><circle cx="489.2" cy="337.8" r="2.72" fill="#007cf5"/><circle cx="489.2" cy="341.5" r="2.72" fill="#007cf5"/><circle cx="489.2" cy="349.0" r="2.72" fill="#007cf5"/><circle cx="489.2" cy="352.8" r="2.72" fill="#007cf5"/><circle cx="493.3" cy="337.8" r="2.72" fill="#007cf5"/><circle cx="493.3" cy="341.5" r="2.72" fill="#007cf5"/><circle cx="492.5" cy="345.2" r="2.72" fill="#007cf5"/><circle cx="493.3" cy="349.0" r="2.72" fill="#007cf5"/><circle cx="497.5" cy="345.2" r="2.72" fill="#007cf5"/><circle cx="498.3" cy="338.2" r="2.72" fill="#007cf5"/><circle cx="498.3" cy="341.5" r="2.72" fill="#007cf5"/><circle cx="498.3" cy="349.0" r="2.72" fill="#007cf5"/><circle cx="500.0" cy="352.8" r="2.72" fill="#007cf5"/><circle cx="502.5" cy="334.0" r="2.72" fill="#007cf5"/><circle cx="502.5" cy="337.8" r="2.72" fill="#007cf5"/><circle cx="502.5" cy="341.5" r="2.72" fill="#007cf5"/><circle cx="502.5" cy="345.2" r="2.72" fill="#007cf5"/><circle cx="502.5" cy="349.0" r="2.72" fill="#007cf5"/><circle cx="502.9" cy="352.8" r="2.72" fill="#007cf5"/><circle cx="507.0" cy="341.5" r="2.72" fill="#007cf5"/><circle cx="507.4" cy="345.2" r="2.72" fill="#007cf5"/><circle cx="506.6" cy="349.0" r="2.72" fill="#007cf5"/><circle cx="512.4" cy="345.2" r="2.72" fill="#007cf5"/><circle cx="517.0" cy="345.2" r="2.72" fill="#007cf5"/></g>
<g><circle cx="474.8" cy="385.8" r="2.72" fill="#893dc1"/><circle cx="479.8" cy="385.8" r="2.72" fill="#8443c6"/><circle cx="483.2" cy="385.8" r="2.72" fill="#754fd1"/><circle cx="487.3" cy="385.8" r="2.72" fill="#754fd1"/><circle cx="490.7" cy="385.8" r="2.72" fill="#754fd1"/><circle cx="497.3" cy="385.8" r="2.72" fill="#4a63e3"/><circle cx="500.7" cy="385.8" r="2.72" fill="#0074f0"/><circle cx="504.8" cy="384.2" r="2.72" fill="#007cf5"/><circle cx="504.8" cy="387.9" r="2.72" fill="#007cf5"/><circle cx="499.0" cy="382.5" r="2.72" fill="#236cea"/><circle cx="500.7" cy="389.6" r="2.72" fill="#0079f3"/><circle cx="424.7" cy="389.6" r="2.72" fill="#e9007c"/><circle cx="427.2" cy="380.0" r="2.72" fill="#f10072"/><circle cx="427.2" cy="387.1" r="2.72" fill="#f80067"/><circle cx="394.5" cy="385.8" r="2.72" fill="#e9007c"/><circle cx="400.3" cy="385.8" r="2.72" fill="#da008b"/><circle cx="405.5" cy="385.8" r="2.72" fill="#fe005c"/><circle cx="407.6" cy="385.8" r="2.72" fill="#e9007c"/><circle cx="412.2" cy="385.8" r="2.72" fill="#c80098"/><circle cx="417.6" cy="385.8" r="2.72" fill="#e00086"/><circle cx="420.1" cy="385.8" r="2.72" fill="#e9007c"/><circle cx="423.4" cy="382.5" r="2.72" fill="#fe005c"/><circle cx="423.8" cy="386.0" r="2.72" fill="#fe005c"/><circle cx="425.5" cy="379.6" r="2.72" fill="#e9007c"/><circle cx="425.9" cy="390.8" r="2.72" fill="#c80098"/><circle cx="426.3" cy="383.3" r="2.72" fill="#e9007c"/><circle cx="428.8" cy="373.8" r="2.72" fill="#c80098"/><circle cx="428.0" cy="377.5" r="2.72" fill="#fe005c"/><circle cx="431.3" cy="376.7" r="2.72" fill="#c80098"/><circle cx="431.8" cy="380.8" r="2.72" fill="#ff0051"/><circle cx="428.8" cy="382.5" r="2.72" fill="#e00086"/><circle cx="429.7" cy="387.5" r="2.72" fill="#f10072"/><circle cx="430.5" cy="391.7" r="2.72" fill="#ff0051"/><circle cx="429.2" cy="395.0" r="2.72" fill="#c80098"/><circle cx="432.2" cy="385.8" r="2.72" fill="#c80098"/><circle cx="432.2" cy="390.0" r="2.72" fill="#d5008f"/><circle cx="436.3" cy="385.8" r="2.72" fill="#ba00a0"/><circle cx="440.9" cy="382.1" r="2.72" fill="#ba00a0"/><circle cx="440.9" cy="385.8" r="2.72" fill="#ba00a0"/><circle cx="441.3" cy="389.6" r="2.72" fill="#ba00a0"/><circle cx="446.3" cy="385.8" r="2.72" fill="#9c24ad"/><circle cx="449.7" cy="382.1" r="2.72" fill="#ab15a7"/><circle cx="450.1" cy="385.8" r="2.72" fill="#9c24ad"/><circle cx="450.1" cy="389.6" r="2.72" fill="#9c24ad"/><circle cx="452.0" cy="385.8" r="2.72" fill="#9c24ad"/><circle cx="455.1" cy="385.8" r="2.72" fill="#ba00a0"/><circle cx="461.9" cy="385.8" r="2.72" fill="#ba00a0"/><circle cx="465.7" cy="385.8" r="2.72" fill="#ab15a7"/><circle cx="470.7" cy="385.8" r="2.72" fill="#8443c6"/><circle cx="473.2" cy="382.5" r="2.72" fill="#9c24ad"/><circle cx="472.8" cy="386.7" r="2.72" fill="#754fd1"/><circle cx="474.8" cy="389.6" r="2.72" fill="#9134ba"/><circle cx="476.9" cy="382.5" r="2.72" fill="#9134ba"/><circle cx="477.3" cy="385.8" r="2.72" fill="#9134ba"/><circle cx="479.0" cy="389.6" r="2.72" fill="#9134ba"/><circle cx="481.5" cy="382.5" r="2.72" fill="#754fd1"/><circle cx="481.5" cy="385.8" r="2.72" fill="#754fd1"/><circle cx="484.8" cy="382.5" r="2.72" fill="#754fd1"/><circle cx="484.4" cy="389.6" r="2.72" fill="#754fd1"/><circle cx="485.7" cy="385.8" r="2.72" fill="#754fd1"/><circle cx="489.0" cy="385.8" r="2.72" fill="#8443c6"/><circle cx="491.9" cy="382.5" r="2.72" fill="#754fd1"/><circle cx="492.3" cy="385.8" r="2.72" fill="#8443c6"/><circle cx="494.8" cy="385.8" r="2.72" fill="#635adb"/><circle cx="496.1" cy="382.5" r="2.72" fill="#635adb"/><circle cx="496.1" cy="389.6" r="2.72" fill="#4a63e3"/><circle cx="499.0" cy="385.8" r="2.72" fill="#236cea"/><circle cx="502.3" cy="382.5" r="2.72" fill="#0074f0"/><circle cx="503.6" cy="378.8" r="2.72" fill="#0074f0"/><circle cx="503.2" cy="389.6" r="2.72" fill="#007cf5"/><circle cx="503.2" cy="385.8" r="2.72" fill="#007cf5"/><circle cx="506.5" cy="382.5" r="2.72" fill="#007ff7"/><circle cx="506.9" cy="386.2" r="2.72" fill="#007ff7"/><circle cx="507.3" cy="389.6" r="2.72" fill="#007ff7"/><circle cx="512.9" cy="379.2" r="2.72" fill="#007cf5"/><circle cx="508.3" cy="382.5" r="2.72" fill="#007cf5"/><circle cx="512.5" cy="382.5" r="2.72" fill="#007cf5"/><circle cx="513.8" cy="385.8" r="2.72" fill="#007ff7"/><circle cx="508.3" cy="389.6" r="2.72" fill="#007cf5"/><circle cx="513.8" cy="389.6" r="2.72" fill="#236cea"/><circle cx="510.4" cy="385.8" r="2.72" fill="#007ff7"/><circle cx="517.9" cy="385.8" r="2.72" fill="#007cf5"/><circle cx="521.7" cy="385.8" r="2.72" fill="#007cf5"/><circle cx="525.8" cy="385.8" r="2.72" fill="#007cf5"/></g>
<g><circle cx="348.1" cy="426.6" r="2.72" fill="#007cf5"/><circle cx="354.4" cy="426.6" r="2.72" fill="#007cf5"/><circle cx="354.5" cy="421.6" r="2.72" fill="#c80098"/><circle cx="360.4" cy="421.6" r="2.72" fill="#c80098"/><circle cx="361.0" cy="426.6" r="2.72" fill="#754fd1"/><circle cx="364.1" cy="421.6" r="2.72" fill="#9134ba"/><circle cx="364.1" cy="426.6" r="2.72" fill="#0074f0"/><circle cx="367.0" cy="421.6" r="2.72" fill="#ff0051"/><circle cx="367.2" cy="426.6" r="2.72" fill="#007cf5"/><circle cx="372.9" cy="426.6" r="2.72" fill="#ab15a7"/><circle cx="373.5" cy="421.6" r="2.72" fill="#e9007c"/><circle cx="376.6" cy="421.6" r="2.72" fill="#9134ba"/><circle cx="376.6" cy="431.4" r="2.72" fill="#893dc1"/><circle cx="377.6" cy="416.8" r="2.72" fill="#007cf5"/><circle cx="377.2" cy="426.6" r="2.72" fill="#9c24ad"/><circle cx="380.4" cy="426.6" r="2.72" fill="#ff0051"/><circle cx="382.0" cy="426.6" r="2.72" fill="#ff0051"/><circle cx="382.0" cy="421.6" r="2.72" fill="#0074f0"/><circle cx="388.8" cy="421.6" r="2.72" fill="#ab15a7"/><circle cx="391.6" cy="421.6" r="2.72" fill="#c80098"/><circle cx="390.0" cy="426.6" r="2.72" fill="#ff0051"/><circle cx="392.2" cy="431.4" r="2.72" fill="#007cf5"/><circle cx="394.1" cy="426.6" r="2.72" fill="#8443c6"/><circle cx="398.2" cy="426.6" r="2.72" fill="#007cf5"/><circle cx="404.1" cy="426.6" r="2.72" fill="#ff0051"/><circle cx="410.4" cy="421.6" r="2.72" fill="#f80067"/><circle cx="411.0" cy="426.6" r="2.72" fill="#ff0051"/><circle cx="406.6" cy="426.6" r="2.72" fill="#754fd1"/><circle cx="407.2" cy="421.6" r="2.72" fill="#007cf5"/><circle cx="409.1" cy="416.8" r="2.72" fill="#007cf5"/><circle cx="409.1" cy="431.4" r="2.72" fill="#007cf5"/><circle cx="414.8" cy="416.4" r="2.72" fill="#8443c6"/><circle cx="414.1" cy="421.6" r="2.72" fill="#007cf5"/><circle cx="413.5" cy="431.4" r="2.72" fill="#007cf5"/><circle cx="416.0" cy="426.6" r="2.72" fill="#0079f3"/><circle cx="419.8" cy="421.6" r="2.72" fill="#007cf5"/><circle cx="421.0" cy="426.6" r="2.72" fill="#007cf5"/><circle cx="425.4" cy="421.6" r="2.72" fill="#c80098"/><circle cx="424.1" cy="426.6" r="2.72" fill="#d5008f"/><circle cx="427.2" cy="426.6" r="2.72" fill="#007cf5"/><circle cx="430.4" cy="421.6" r="2.72" fill="#0079f3"/><circle cx="429.8" cy="426.6" r="2.72" fill="#007cf5"/><circle cx="432.9" cy="426.6" r="2.72" fill="#9134ba"/><circle cx="436.6" cy="421.6" r="2.72" fill="#0079f3"/><circle cx="439.8" cy="421.6" r="2.72" fill="#0079f3"/><circle cx="437.2" cy="426.6" r="2.72" fill="#007cf5"/><circle cx="440.4" cy="426.6" r="2.72" fill="#7f48ca"/><circle cx="444.1" cy="426.6" r="2.72" fill="#007cf5"/><circle cx="447.9" cy="426.6" r="2.72" fill="#ff0051"/><circle cx="451.0" cy="426.6" r="2.72" fill="#ff0051"/><circle cx="449.8" cy="421.6" r="2.72" fill="#c80098"/><circle cx="451.2" cy="431.4" r="2.72" fill="#007cf5"/><circle cx="453.2" cy="421.6" r="2.72" fill="#007cf5"/><circle cx="456.6" cy="421.6" r="2.72" fill="#007cf5"/><circle cx="456.0" cy="426.6" r="2.72" fill="#0079f3"/><circle cx="459.8" cy="426.6" r="2.72" fill="#0074f0"/><circle cx="463.2" cy="426.6" r="2.72" fill="#754fd1"/><circle cx="468.5" cy="426.6" r="2.72" fill="#236cea"/><circle cx="471.6" cy="421.6" r="2.72" fill="#007cf5"/><circle cx="472.9" cy="426.6" r="2.72" fill="#007cf5"/><circle cx="474.1" cy="431.4" r="2.72" fill="#4a63e3"/><circle cx="476.0" cy="416.8" r="2.72" fill="#007cf5"/><circle cx="475.4" cy="421.6" r="2.72" fill="#007cf5"/><circle cx="476.6" cy="426.6" r="2.72" fill="#007cf5"/><circle cx="479.8" cy="426.6" r="2.72" fill="#007cf5"/><circle cx="482.9" cy="421.6" r="2.72" fill="#007cf5"/><circle cx="484.1" cy="426.6" r="2.72" fill="#007cf5"/><circle cx="483.9" cy="431.4" r="2.72" fill="#9134ba"/><circle cx="497.1" cy="421.6" r="2.72" fill="#754fd1"/><circle cx="496.9" cy="426.6" r="2.72" fill="#007cf5"/><circle cx="500.0" cy="426.6" r="2.72" fill="#4a63e3"/><circle cx="504.4" cy="426.6" r="2.72" fill="#007cf5"/><circle cx="510.4" cy="426.6" r="2.72" fill="#4a63e3"/><circle cx="518.5" cy="421.6" r="2.72" fill="#9c24ad"/><circle cx="519.4" cy="426.6" r="2.72" fill="#007cf5"/><circle cx="525.6" cy="426.6" r="2.72" fill="#0074f0"/><circle cx="529.1" cy="421.6" r="2.72" fill="#9134ba"/><circle cx="529.4" cy="426.6" r="2.72" fill="#007cf5"/><circle cx="530.0" cy="431.4" r="2.72" fill="#893dc1"/><circle cx="532.5" cy="426.6" r="2.72" fill="#0079f3"/><circle cx="536.0" cy="421.6" r="2.72" fill="#ec0078"/><circle cx="536.5" cy="426.6" r="2.72" fill="#236cea"/><circle cx="543.1" cy="426.6" r="2.72" fill="#635adb"/><circle cx="546.9" cy="426.6" r="2.72" fill="#da008b"/><circle cx="550.6" cy="421.6" r="2.72" fill="#9134ba"/><circle cx="550.6" cy="431.4" r="2.72" fill="#9c24ad"/><circle cx="553.1" cy="426.6" r="2.72" fill="#f10072"/><circle cx="554.0" cy="421.6" r="2.72" fill="#007cf5"/><circle cx="557.5" cy="426.6" r="2.72" fill="#007cf5"/><circle cx="560.0" cy="426.6" r="2.72" fill="#0079f3"/><circle cx="561.5" cy="421.6" r="2.72" fill="#9134ba"/><circle cx="563.5" cy="426.6" r="2.72" fill="#635adb"/><circle cx="566.6" cy="421.6" r="2.72" fill="#635adb"/><circle cx="572.5" cy="426.6" r="2.72" fill="#da008b"/><circle cx="575.6" cy="426.6" r="2.72" fill="#007cf5"/><circle cx="580.2" cy="426.6" r="2.72" fill="#007ff7"/><circle cx="584.0" cy="426.6" r="2.72" fill="#9134ba"/><circle cx="593.0" cy="426.6" r="2.72" fill="#635adb"/><circle cx="637.5" cy="426.6" r="2.72" fill="#e9007c"/></g>
<line x1="263.1" x2="656.8" y1="467.90000000000003" y2="467.90000000000003" stroke="#555" stroke-width="1.7"/>
<line x1="302.9" x2="302.9" y1="467.8" y2="473.0" stroke="#555" stroke-width="1.07"/>
<text transform="translate(302.6 488) scale(1 1.14)" font-size="14.67" fill="#333" text-anchor="middle">−2</text>
<line x1="383.5" x2="383.5" y1="467.8" y2="473.0" stroke="#555" stroke-width="1.07"/>
<text transform="translate(383.2 488) scale(1 1.14)" font-size="14.67" fill="#333" text-anchor="middle">−1</text>
<line x1="464.1" x2="464.1" y1="467.8" y2="473.0" stroke="#555" stroke-width="1.07"/>
<text transform="translate(463.8 488) scale(1 1.14)" font-size="14.67" fill="#333" text-anchor="middle">0</text>
<line x1="544.5" x2="544.5" y1="467.8" y2="473.0" stroke="#555" stroke-width="1.07"/>
<text transform="translate(544.2 488) scale(1 1.14)" font-size="14.67" fill="#333" text-anchor="middle">1</text>
<line x1="626.2" x2="626.2" y1="467.8" y2="473.0" stroke="#555" stroke-width="1.07"/>
<text transform="translate(625.9 488) scale(1 1.14)" font-size="14.67" fill="#333" text-anchor="middle">2</text>
<text x="459.9" y="509.5" font-size="17.33" fill="#1c1c1c" text-anchor="middle">SHAP value (impact on model output)</text>
<text x="232" y="67.2" font-size="17.33" fill="#333" text-anchor="end">worst concave points</text>
<text x="232" y="107.9" font-size="17.33" fill="#333" text-anchor="end">worst concavity</text>
<text x="232" y="148.5" font-size="17.33" fill="#333" text-anchor="end">mean concave points</text>
<text x="232" y="189.2" font-size="17.33" fill="#333" text-anchor="end">worst area</text>
<text x="232" y="229.9" font-size="17.33" fill="#333" text-anchor="end">worst perimeter</text>
<text x="232" y="270.5" font-size="17.33" fill="#333" text-anchor="end">worst texture</text>
<text x="232" y="311.2" font-size="17.33" fill="#333" text-anchor="end">worst radius</text>
<text x="232" y="351.9" font-size="17.33" fill="#333" text-anchor="end">area error</text>
<text x="232" y="392.5" font-size="17.33" fill="#333" text-anchor="end">mean texture</text>
<text x="232" y="433.2" font-size="17.33" fill="#333" text-anchor="end">Sum of 21 other features</text>
<rect x="679.5" y="20.0" width="6.2" height="447.8" fill="url(#cb)"/>
<text transform="translate(690.6 25.8) scale(1 1.1)" font-size="14.67" fill="#151515">High</text>
<text transform="translate(690.8 472.9) scale(1 1.1)" font-size="14.67" fill="#151515">Low</text>
<text transform="translate(734.6 244.3) rotate(-90)" font-size="16" fill="#111" text-anchor="middle">Feature value</text>
</svg></body></html>
